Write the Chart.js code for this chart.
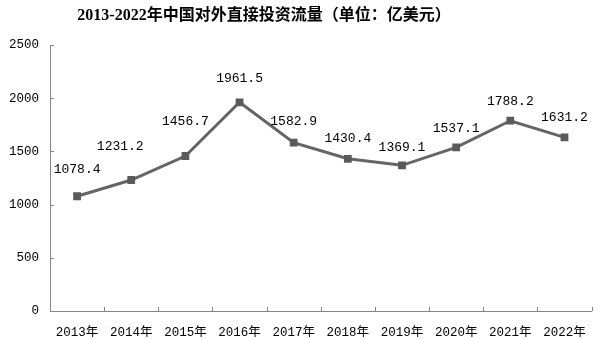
<!DOCTYPE html>
<html>
<head>
<meta charset="utf-8">
<script src="https://cdn.jsdelivr.net/npm/chart.js@4/dist/chart.umd.min.js"></script>
<style>
  html, body { margin: 0; padding: 0; background: #fff; }
  #wrap { width: 600px; height: 339px; }
</style>
</head>
<body>
<div id="wrap"><canvas id="fdiChart" width="600" height="339"></canvas></div>
<script>
// --- te dhenat ---
const years = ["2013年", "2014年", "2015年", "2016年", "2017年", "2018年", "2019年", "2020年", "2021年", "2022年"];
const flows = [1078.4, 1231.2, 1456.7, 1961.5, 1582.9, 1430.4, 1369.1, 1537.1, 1788.2, 1631.2];
const yTicks = [0, 500, 1000, 1500, 2000, 2500];
const titleText = "2013-2022年中国对外直接投资流量（单位：亿美元）";

const monoFont = '"Liberation Mono", "Noto Sans CJK SC", monospace';

// label shift above each point (dx, dy) so text stays clear of the line
const labelShift = [[0, -27], [-11, -33], [0, -34], [0, -24], [0, -21], [0, -20], [0, -18], [0, -19], [0, -19], [0, -20]];

// title + inner tick marks + value labels
const drawExtras = {
  id: "drawExtras",
  afterDraw(chart) {
    const ctx = chart.ctx;
    const x = chart.scales.x;
    const y = chart.scales.y;
    ctx.save();

    // title
    ctx.fillStyle = "#000";
    ctx.font = 'bold 16px "Liberation Serif", "Noto Sans CJK SC", serif';
    ctx.textAlign = "center";
    ctx.textBaseline = "middle";
    ctx.fillText(titleText, 264, 16);

    // tick marks pointing inwards
    ctx.strokeStyle = "#868686";
    ctx.lineWidth = 1;
    ctx.beginPath();
    const step = (x.right - x.left) / years.length;
    for (let i = 1; i <= years.length; i++) {
      const px = Math.round(x.left + step * i) + 0.5;
      ctx.moveTo(px, y.bottom);
      ctx.lineTo(px, y.bottom - 4);
    }
    yTicks.forEach(v => {
      const py = Math.round(y.getPixelForValue(v)) + 0.5;
      ctx.moveTo(x.left, py);
      ctx.lineTo(x.left + 4, py);
    });
    ctx.stroke();

    // value labels
    ctx.fillStyle = "#000";
    ctx.font = "13px " + monoFont;
    const meta = chart.getDatasetMeta(0);
    meta.data.forEach((pt, i) => {
      const s = labelShift[i];
      ctx.fillText(flows[i].toFixed(1), pt.x + s[0], pt.y + s[1]);
    });
    ctx.restore();
  }
};

new Chart(document.getElementById("fdiChart"), {
  type: "line",
  data: {
    labels: years,
    datasets: [{
      data: flows,
      borderColor: "#656565",
      borderWidth: 3,
      tension: 0,
      pointStyle: "rect",
      pointRadius: 5.5,
      pointBackgroundColor: "#5a5a5a",
      pointBorderColor: "#5a5a5a",
      pointBorderWidth: 0
    }]
  },
  options: {
    responsive: false,
    animation: false,
    layout: { padding: { top: 45, right: 5, left: 0, bottom: 0 } },
    plugins: { legend: { display: false }, title: { display: false }, tooltip: { enabled: false } },
    scales: {
      x: {
        offset: true,
        grid: { display: false, drawTicks: false },
        border: { display: true, color: "#868686", width: 1 },
        ticks: { color: "#000", font: { size: 12.5, family: monoFont }, padding: 14, maxRotation: 0, autoSkip: false },
        afterFit: s => { s.height = 28; }
      },
      y: {
        min: 0,
        max: 2500,
        afterBuildTicks: s => { s.ticks = yTicks.map(v => ({ value: v })); },
        grid: { display: false, drawTicks: false },
        border: { display: true, color: "#868686", width: 1 },
        ticks: { color: "#000", font: { size: 12.5, family: monoFont }, padding: 11, callback: v => String(v) },
        afterFit: s => { s.width = 50; }
      }
    }
  },
  plugins: [drawExtras]
});
</script>
</body>
</html>
